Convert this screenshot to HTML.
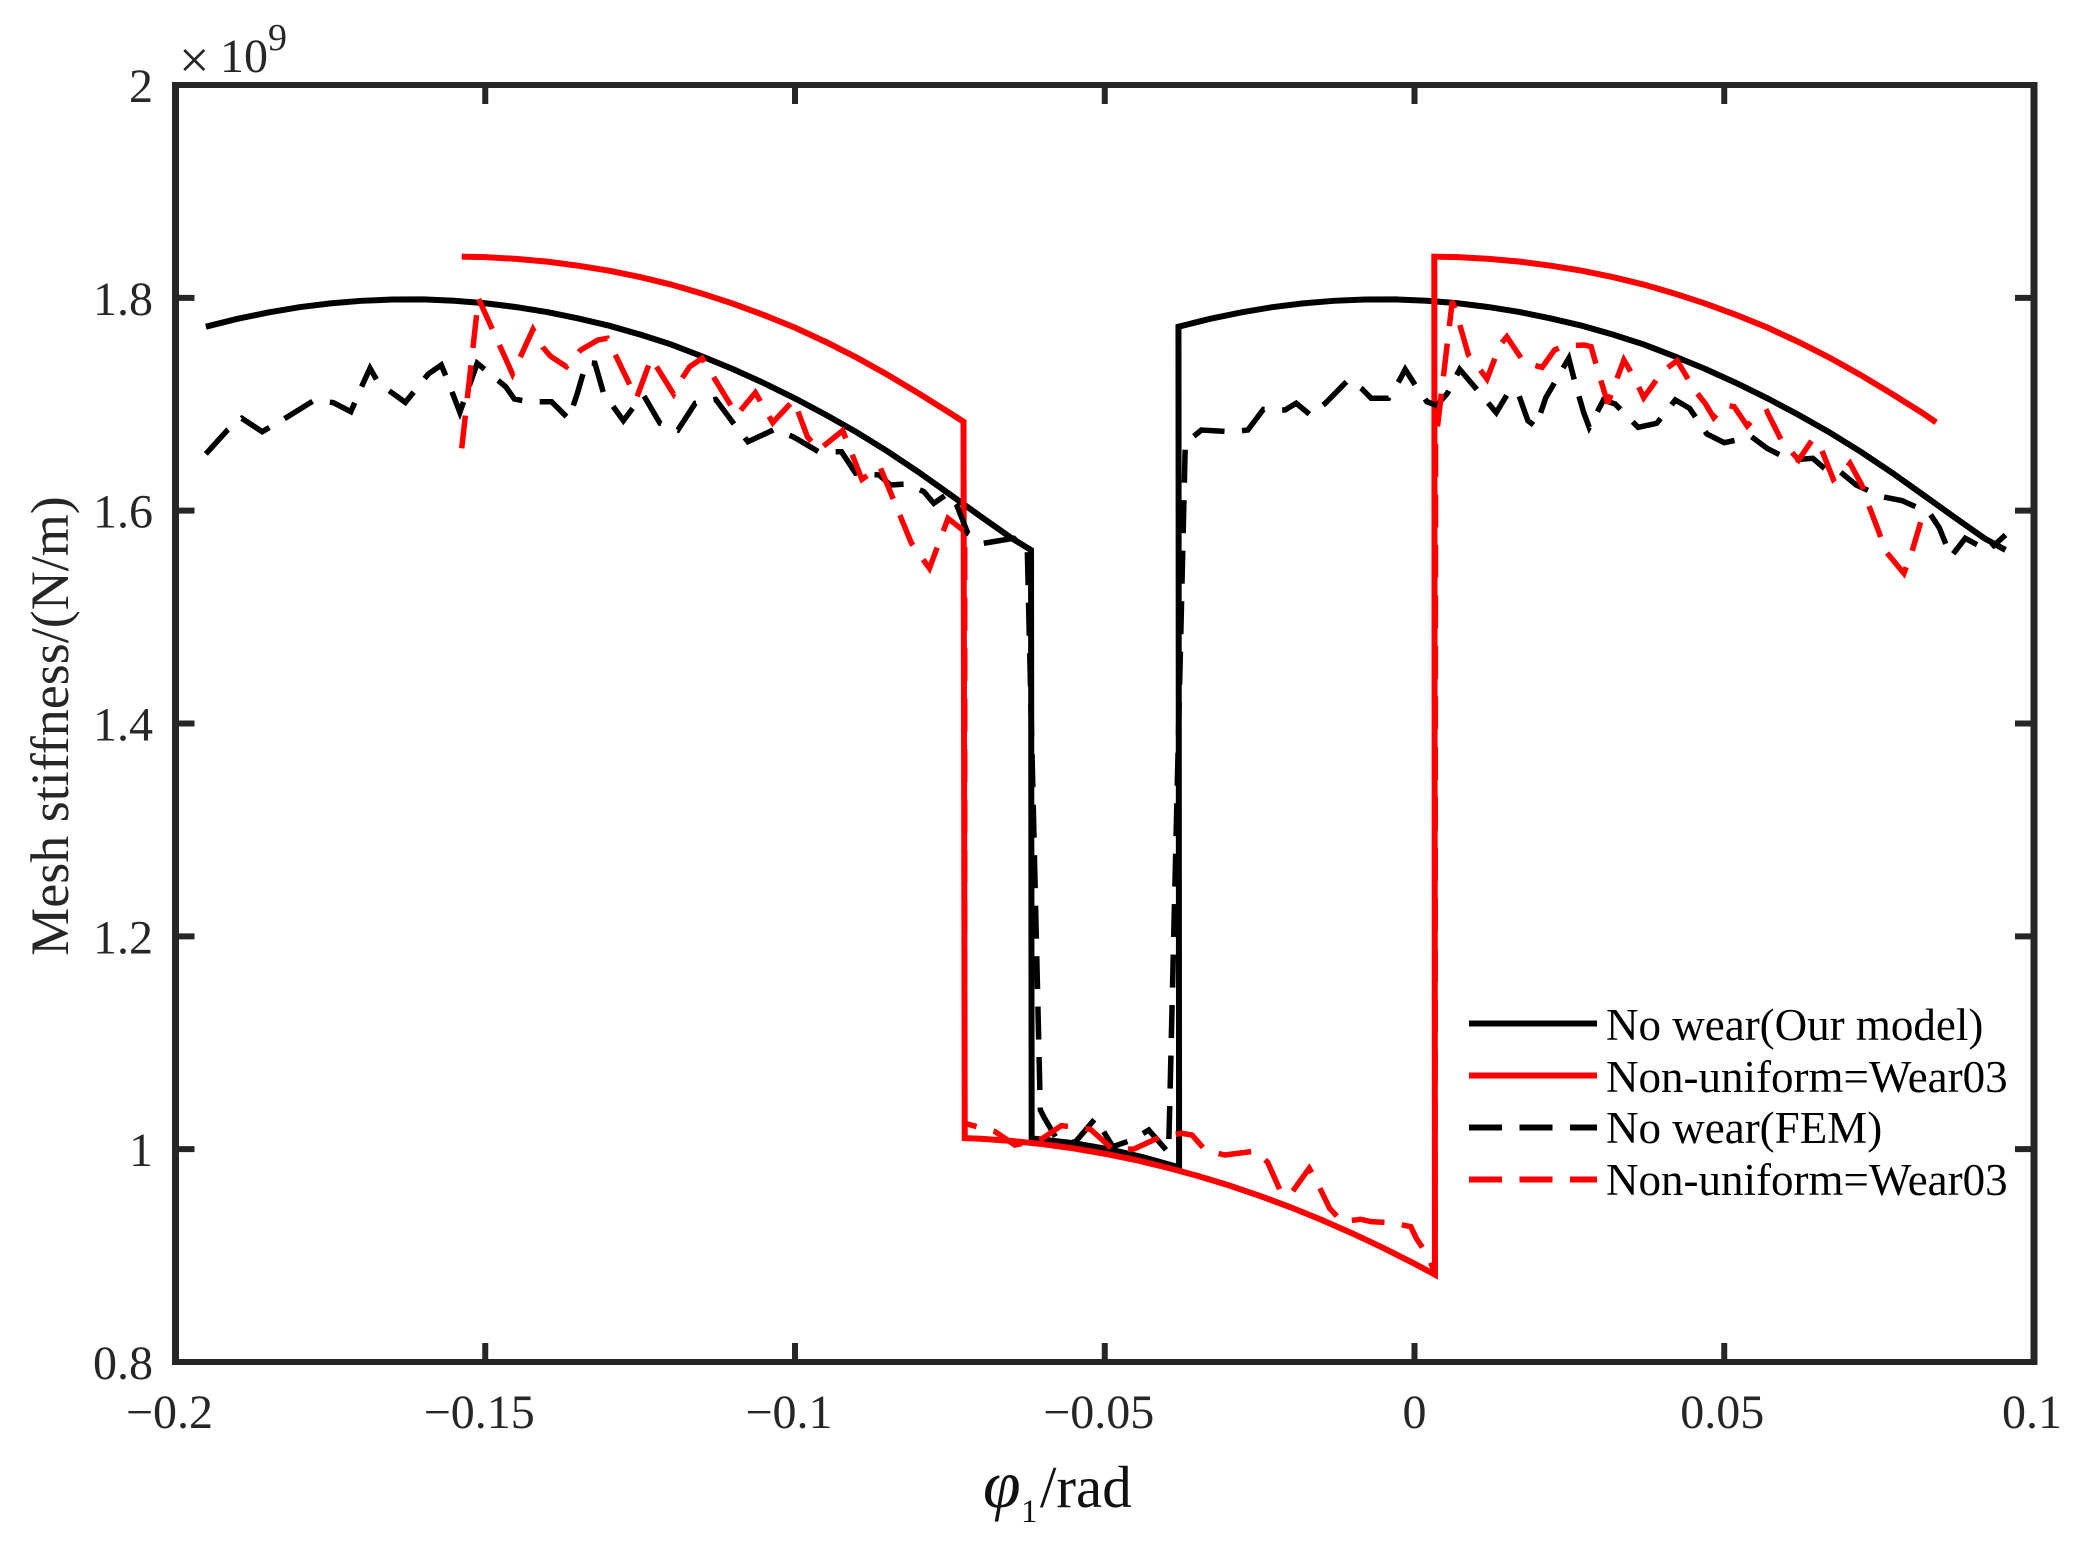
<!DOCTYPE html>
<html>
<head>
<meta charset="utf-8">
<title>Mesh stiffness chart</title>
<style>
html,body{margin:0;padding:0;background:#fff;}
svg{display:block;}
text{font-family:"Liberation Serif",serif;fill:#262626;}
</style>
</head>
<body>
<svg id="chart" xmlns="http://www.w3.org/2000/svg" width="2077" height="1545" viewBox="0 0 2077 1545">
  <rect x="0" y="0" width="2077" height="1545" fill="#fff"/>
  <g id="series"></g>
  <g id="axes"></g>
  <text x="179" y="78" font-size="54">×</text>
  <text x="220" y="72" font-size="48">10</text>
  <text x="268" y="50" font-size="38">9</text>
  <text transform="translate(68 726) rotate(-90)" text-anchor="middle" font-size="54">Mesh stiffness/(N/m)</text>
  <g>
    <text x="983" y="1507" font-size="68" font-style="italic" style="fill:#111">φ</text>
    <text x="1021" y="1522" font-size="33" style="fill:#111">1</text>
    <text x="1040" y="1507" font-size="59" style="fill:#111">/rad</text>
  </g>
  <g>
    <line x1="1469" x2="1597" y1="1023.5" y2="1023.5" stroke="#000" stroke-width="6"/>
    <text x="1606" y="1040" font-size="45" style="fill:#000">No wear(Our model)</text>
    <line x1="1469" x2="1597" y1="1075.5" y2="1075.5" stroke="#f00" stroke-width="6"/>
    <text x="1606" y="1092" font-size="45" style="fill:#000">Non-uniform=Wear03</text>
    <line x1="1469" x2="1597" y1="1127.5" y2="1127.5" stroke="#000" stroke-width="6" stroke-dasharray="33 17.5"/>
    <text x="1606" y="1143" font-size="45" style="fill:#000">No wear(FEM)</text>
    <line x1="1469" x2="1597" y1="1179.5" y2="1179.5" stroke="#f00" stroke-width="6" stroke-dasharray="33 17.5"/>
    <text x="1606" y="1195" font-size="45" style="fill:#000">Non-uniform=Wear03</text>
  </g>
</svg>
<script>
const xTickValues = [-0.2, -0.15, -0.1, -0.05, 0, 0.05, 0.1];
const xTickLabels = ["\u22120.2", "\u22120.15", "\u22120.1", "\u22120.05", "0", "0.05", "0.1"];
const yTickValues = [0.8, 1, 1.2, 1.4, 1.6, 1.8, 2];
const yTickLabels = ["0.8", "1", "1.2", "1.4", "1.6", "1.8", "2"];

const noWearModelX = [-0.1951,-0.19,-0.185,-0.18,-0.175,-0.17,-0.165,-0.16,-0.155,-0.15,-0.145,-0.14,-0.135,-0.13,-0.125,-0.12,-0.115,-0.11,-0.105,-0.10,-0.095,-0.09,-0.085,-0.08,-0.075,-0.07,-0.065,-0.0619,
  -0.0618,-0.0548,-0.0487,-0.0437,-0.0380,
  -0.0381,-0.033,-0.028,-0.023,-0.018,-0.013,-0.008,-0.003,0.002,0.007,0.012,0.017,0.022,0.027,0.032,0.037,0.042,0.047,0.052,0.057,0.062,0.067,0.072,0.077,0.082,0.087,0.092,0.0954];
const noWearModelY = [1.7729,1.7803,1.7863,1.7912,1.7948,1.7972,1.7984,1.7985,1.7973,1.7949,1.7913,1.7866,1.7806,1.7738,1.7655,1.7562,1.7450,1.7330,1.7198,1.7055,1.6900,1.6735,1.6555,1.6360,1.6153,1.5945,1.5740,1.5630,
  1.0102,1.0055,0.9992,0.9923,0.9829,
  1.7729,1.7803,1.7863,1.7912,1.7948,1.7972,1.7984,1.7985,1.7973,1.7949,1.7913,1.7866,1.7806,1.7738,1.7655,1.7562,1.7450,1.7330,1.7198,1.7055,1.6900,1.6735,1.6555,1.6360,1.6153,1.5945,1.5740,1.5630];

const nonUniformModelX = [-0.1538,-0.15,-0.145,-0.14,-0.135,-0.13,-0.125,-0.12,-0.115,-0.11,-0.105,-0.10,-0.095,-0.09,-0.085,-0.08,-0.075,-0.0728,
  -0.0726,-0.07,-0.065,-0.06,-0.055,-0.05,-0.045,-0.04,-0.035,-0.03,-0.025,-0.02,-0.015,-0.01,-0.005,0,0.0033,
  0.0032,0.007,0.012,0.017,0.022,0.027,0.032,0.037,0.042,0.047,0.052,0.057,0.062,0.067,0.072,0.077,0.082,0.0842];
const nonUniformModelY = [1.8387,1.8382,1.8366,1.8340,1.8302,1.8255,1.8195,1.8125,1.8040,1.7945,1.7838,1.7720,1.7585,1.7438,1.7275,1.7100,1.6918,1.6836,
  1.0104,1.0098,1.0077,1.0047,1.0007,0.9957,0.9898,0.9828,0.9749,0.9661,0.9562,0.9454,0.9336,0.9208,0.9071,0.8924,0.8821,
  1.8387,1.8382,1.8366,1.8340,1.8302,1.8255,1.8195,1.8125,1.8040,1.7945,1.7838,1.7720,1.7585,1.7438,1.7275,1.7100,1.6918,1.6830];

const noWearFemX = [-0.1951,-0.1916,-0.1893,-0.1860,-0.1819,-0.1777,-0.1745,-0.1717,-0.1696,-0.1686,-0.1672,-0.1629,-0.1592,-0.1571,-0.1561,-0.1541,-0.1513,-0.1490,-0.1467,-0.1453,-0.1430,-0.1393,-0.1365,-0.1351,-0.1337,-0.1323,-0.1309,-0.1277,-0.1258,-0.1244,-0.1218,-0.1189,-0.1161,-0.1128,-0.1098,-0.1076,-0.1033,-0.1003,-0.0962,-0.0925,-0.0902,-0.0864,-0.0846,-0.0820,-0.0792,-0.0776,-0.0753,-0.0739,-0.0721,-0.0696,-0.0647,-0.0625,
  -0.0604,-0.0598,-0.0579,-0.0548,-0.0515,-0.0487,-0.0456,-0.0429,-0.0397,-0.0395,
  -0.0370,-0.0344,-0.0297,-0.0269,-0.0244,-0.0209,-0.0191,-0.0168,-0.0144,-0.0107,-0.0084,-0.0070,-0.0042,-0.0024,-0.0015,0.0001,0.0020,0.0036,0.0053,0.0073,0.0099,0.0132,0.0150,0.0166,0.0183,0.0196,0.0212,0.0249,0.0259,0.0273,0.0282,0.0305,0.0324,0.0361,0.0391,0.0421,0.0444,0.0472,0.0500,0.0544,0.0569,0.0606,0.0643,0.0666,0.0685,0.0713,0.0754,0.0787,0.0831,0.0847,0.0866,0.0889,0.0926,0.0954];
const noWearFemY = [1.6533,1.6758,1.6868,1.6742,1.6883,1.7034,1.7015,1.6930,1.7212,1.7338,1.7197,1.7018,1.7284,1.7369,1.7228,1.6924,1.7385,1.7275,1.7165,1.7049,1.7024,1.7024,1.6861,1.7109,1.7391,1.7385,1.7103,1.6846,1.6993,1.7081,1.6821,1.6758,1.7009,1.7046,1.6811,1.6648,1.6764,1.6695,1.6554,1.6554,1.6351,1.6335,1.6241,1.6251,1.6179,1.6069,1.6163,1.6053,1.5787,1.5693,1.5740,1.5630,
  1.0368,1.0299,1.0111,1.0064,1.0290,1.0024,1.0086,1.0180,0.9967,1.0431,
  1.6633,1.6758,1.6742,1.6758,1.6952,1.6946,1.7009,1.6899,1.7009,1.7228,1.7140,1.7056,1.7056,1.7228,1.7328,1.7181,1.7024,1.6987,1.7103,1.7328,1.7150,1.6921,1.7096,1.7125,1.6846,1.6789,1.7062,1.7432,1.7206,1.6924,1.6783,1.7040,1.7002,1.6783,1.6821,1.7040,1.6962,1.6721,1.6639,1.6695,1.6586,1.6476,1.6492,1.6376,1.6376,1.6241,1.6132,1.6094,1.5981,1.5840,1.5568,1.5740,1.5624,1.5772];

const nonUniformFemX = [-0.1538,-0.1511,-0.1456,-0.1423,-0.1407,-0.1395,-0.1369,-0.1346,-0.1318,-0.1303,-0.1256,-0.1232,-0.1196,-0.1184,-0.1170,-0.1150,-0.1094,-0.1064,-0.1036,-0.1002,-0.0980,-0.0962,-0.0923,-0.0892,-0.0863,-0.0812,-0.0783,-0.0753,-0.0726,
  -0.0726,-0.0706,-0.0677,-0.0645,-0.0603,-0.0570,-0.0556,-0.0523,-0.0487,-0.0453,-0.0409,-0.0376,-0.0359,-0.0337,-0.0306,-0.0256,-0.0237,-0.0216,-0.0201,-0.0170,-0.0159,-0.0137,-0.0117,-0.0087,-0.0070,-0.0037,-0.0006,0.0003,0.0022,0.0033,
  0.0034,0.0061,0.0069,0.0087,0.0097,0.0117,0.0138,0.0149,0.0177,0.0206,0.0226,0.0242,0.0274,0.0285,0.0296,0.0312,0.0338,0.0356,0.0370,0.0400,0.0424,0.0451,0.0470,0.0483,0.0502,0.0516,0.0537,0.0548,0.0569,0.0592,0.0620,0.0643,0.0657,0.0676,0.0694,0.0703,0.0722,0.0731,0.0750,0.0759,0.0790,0.0803,0.0817];
const nonUniformFemY = [1.6586,1.7995,1.7284,1.7704,1.7535,1.7453,1.7353,1.7510,1.7604,1.7620,1.7056,1.7432,1.7096,1.7228,1.7353,1.7432,1.6899,1.7109,1.6827,1.7040,1.6695,1.6570,1.6752,1.6294,1.6414,1.5693,1.5458,1.5928,1.5803,
  1.0243,1.0211,1.0165,1.0039,1.0092,1.0221,1.0211,1.0186,0.9998,1.0002,1.0118,1.0149,1.0133,0.9986,0.9945,0.9983,0.9876,0.9601,0.9569,0.9820,0.9710,0.9444,0.9319,0.9341,0.9319,0.9309,0.9272,0.9162,0.8996,0.8833,
  1.6633,1.7970,1.7829,1.7463,1.7394,1.7237,1.7557,1.7635,1.7391,1.7347,1.7510,1.7547,1.7557,1.7541,1.7316,1.7009,1.7416,1.7237,1.7062,1.7306,1.7410,1.7143,1.7002,1.6874,1.6993,1.6977,1.6796,1.6868,1.6930,1.6664,1.6476,1.6674,1.6576,1.6294,1.6376,1.6445,1.6241,1.6085,1.5793,1.5630,1.5411,1.5615,1.5891];

const NS = "http://www.w3.org/2000/svg";
const plotLeft = 175.5, plotRight = 2034, plotTop = 85, plotBottom = 1362;
const xMin = -0.2, xMax = 0.1, yMin = 0.8, yMax = 2;
function xScale(v) { return plotLeft + (v - xMin) / (xMax - xMin) * (plotRight - plotLeft); }
function yScale(v) { return plotBottom - (v - yMin) / (yMax - yMin) * (plotBottom - plotTop); }

const seriesLayer = document.getElementById("series");
const axesLayer = document.getElementById("axes");

function drawSeries(name, xs, ys, color, width, dash) {
  const path = document.createElementNS(NS, "path");
  let d = "";
  for (let i = 0; i < xs.length; i++) {
    d += (i === 0 ? "M" : "L") + xScale(xs[i]).toFixed(2) + " " + yScale(ys[i]).toFixed(2);
  }
  path.setAttribute("d", d);
  path.setAttribute("fill", "none");
  path.setAttribute("stroke", color);
  path.setAttribute("stroke-width", width);
  path.setAttribute("stroke-linejoin", "miter");
  path.setAttribute("stroke-miterlimit", "3");
  if (dash) path.setAttribute("stroke-dasharray", dash);
  
  
  seriesLayer.appendChild(path);
}
drawSeries("series-no-wear-model", noWearModelX, noWearModelY, "#000", 6, null);
drawSeries("series-non-uniform-model", nonUniformModelX, nonUniformModelY, "#f00", 6, null);
drawSeries("series-no-wear-fem", noWearFemX, noWearFemY, "#000", 5.5, "33 17.5");
drawSeries("series-non-uniform-fem", nonUniformFemX, nonUniformFemY, "#f00", 5.5, "33 17.5");

function addLine(name, x1, y1, x2, y2, width) {
  const line = document.createElementNS(NS, "line");
  line.setAttribute("x1", x1);
  line.setAttribute("y1", y1);
  line.setAttribute("x2", x2);
  line.setAttribute("y2", y2);
  line.setAttribute("stroke", "#262626");
  line.setAttribute("stroke-width", width);
  
  
  axesLayer.appendChild(line);
}
function addLabel(name, x, y, anchor, content) {
  const label = document.createElementNS(NS, "text");
  label.setAttribute("x", x);
  label.setAttribute("y", y);
  label.setAttribute("text-anchor", anchor);
  label.setAttribute("font-size", "48");
  label.textContent = content;
  
  
  axesLayer.appendChild(label);
}

const tickLength = 19;
addLine("axis-left", plotLeft, plotTop - 3, plotLeft, plotBottom + 3, 7);
addLine("axis-right", plotRight, plotTop - 3, plotRight, plotBottom + 3, 7);
addLine("axis-top", plotLeft, plotTop, plotRight, plotTop, 6);
addLine("axis-bottom", plotLeft, plotBottom, plotRight, plotBottom, 6);

xTickValues.forEach(function (v, i) {
  const px = xScale(v);
  if (i > 0 && i < xTickValues.length - 1) {
    addLine("x-tick-bottom", px, plotBottom, px, plotBottom - tickLength, 6);
    addLine("x-tick-top", px, plotTop, px, plotTop + tickLength, 6);
  }
  const offset = v < 0 ? -6 : (v > 0 ? -2 : 0);
  addLabel("x-tick-label", px + offset, 1428, "middle", xTickLabels[i]);
});
yTickValues.forEach(function (v, i) {
  const py = yScale(v);
  if (i > 0 && i < yTickValues.length - 1) {
    addLine("y-tick-left", plotLeft, py, plotLeft + tickLength, py, 6);
    addLine("y-tick-right", plotRight, py, plotRight - tickLength, py, 6);
  }
  addLabel("y-tick-label", 153, py + 17, "end", yTickLabels[i]);
});
</script>
</body>
</html>
